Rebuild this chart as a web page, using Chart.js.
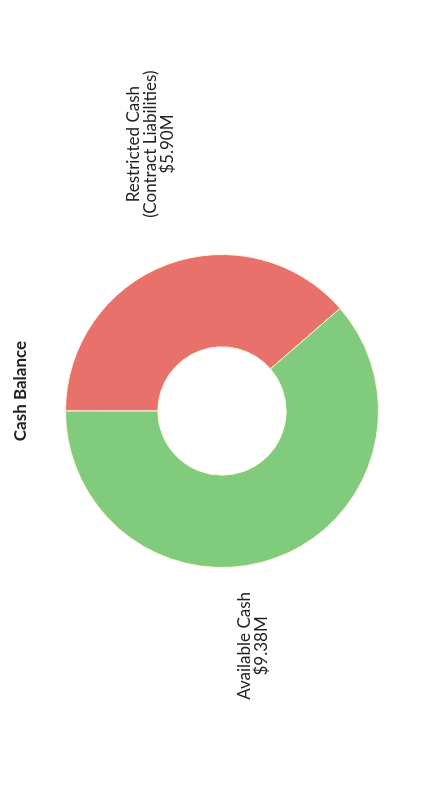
<!DOCTYPE html>
<html>
<head>
<meta charset="utf-8">
<script src="https://cdn.jsdelivr.net/npm/chart.js@4/dist/chart.umd.min.js"></script>
<style>
  html, body { margin: 0; padding: 0; background: #fff; overflow: hidden; }
  #wrap {
    position: absolute; left: 0; top: 0;
    width: 798px; height: 430px;
    transform-origin: 0 0;
    /* the source picture is turned a quarter turn counter-clockwise */
    transform: translateY(798px) rotate(-90deg);
  }
</style>
</head>
<body>
<div id="wrap"><canvas id="cashChart" width="798" height="430"></canvas></div>
<script>
  // chart data
  const chartTitle = 'Cash Balance';
  const categories = [['Restricted Cash', '(Contract Liabilities)'], ['Available Cash']];
  const values = [5.90, 9.38];
  const sliceColors = ['#E8716B', '#80CB7C'];

  // outside labels: name lines + value in $M
  const outsideLabels = {
    id: 'outsideLabels',
    afterDatasetsDraw(chart, args, opts) {
      const ctx = chart.ctx;
      const arcs = chart.getDatasetMeta(0).data;
      ctx.save();
      ctx.fillStyle = '#222';
      ctx.textAlign = 'center';
      ctx.textBaseline = 'middle';
      ctx.font = '17px Lato';

      arcs.forEach((arc, i) => {
        const mid = (arc.startAngle + arc.endAngle) / 2;
        const p = opts.placement[i];
        const cx = arc.x + Math.cos(mid) * arc.outerRadius * p.dist + p.dx;
        const cy = arc.y + Math.sin(mid) * arc.outerRadius * p.dist + p.dy;
        const lines = categories[i].concat('$' + values[i].toFixed(2) + 'M');
        const lh = 17;
        const top = cy - (lines.length - 1) * lh / 2;
        lines.forEach((t, j) => ctx.fillText(t, cx, top + j * lh));
      });

      // title
      const a = arcs[0];
      ctx.font = 'bold 17px Lato';
      ctx.fillText(chartTitle, a.x + opts.titleDx, opts.titleY);
      ctx.restore();
    }
  };

  new Chart(document.getElementById('cashChart').getContext('2d'), {
    type: 'doughnut',
    data: {
      labels: categories.map(c => c.join(' ')),
      datasets: [{
        data: values,
        backgroundColor: sliceColors,
        borderColor: '#FFF6DC',
        borderWidth: 1
      }]
    },
    options: {
      responsive: false,
      animation: false,
      cutout: '41%',
      layout: { padding: { top: 65, bottom: 51, left: 0, right: 24 } },
      plugins: {
        legend: { display: false },
        tooltip: { enabled: false },
        title: { display: false },
        outsideLabels: {
          placement: [
            { dist: 1.8, dx: 3, dy: 27 },
            { dist: 1.5, dx: -15, dy: -51 }
          ],
          titleDx: 20,
          titleY: 21
        }
      }
    },
    plugins: [outsideLabels]
  });
</script>
</body>
</html>
